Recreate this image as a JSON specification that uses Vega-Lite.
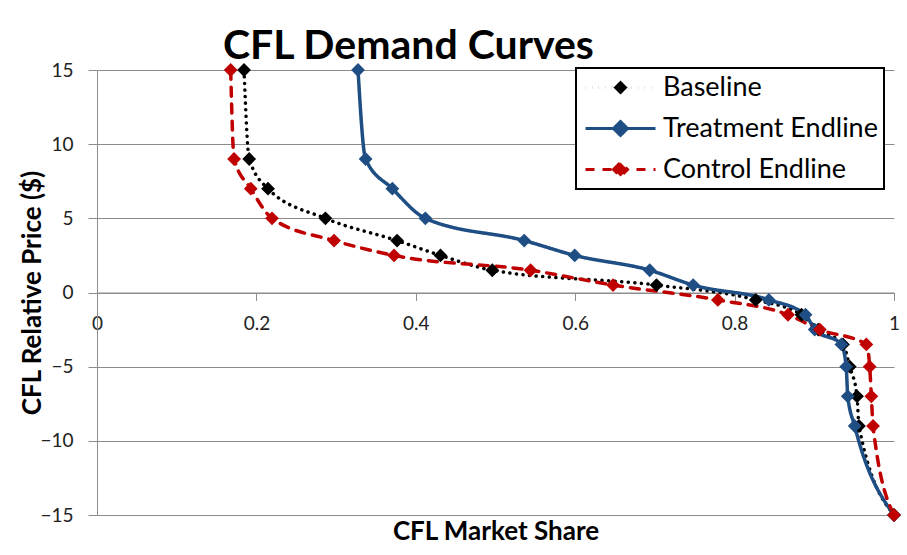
{
  "$schema": "https://vega.github.io/schema/vega-lite/v6.json",
  "autosize": "none",
  "width": 797,
  "height": 445,
  "padding": {"left": 97, "top": 70, "right": 13, "bottom": 40},
  "background": "white",
  "title": {
    "text": "CFL Demand Curves",
    "anchor": "start",
    "dx": 204,
    "offset": -7,
    "font": "Lato",
    "fontSize": 41,
    "fontWeight": "bold",
    "color": "#000000"
  },
  "config": {
    "view": {"stroke": null},
    "font": "Lato"
  },
  "data": {
    "values": [
      {"series": "Baseline", "share": 0.1845, "price": 15},
      {"series": "Baseline", "share": 0.191, "price": 9},
      {"series": "Baseline", "share": 0.2146, "price": 7},
      {"series": "Baseline", "share": 0.2866, "price": 5},
      {"series": "Baseline", "share": 0.3765, "price": 3.5},
      {"series": "Baseline", "share": 0.431, "price": 2.5},
      {"series": "Baseline", "share": 0.496, "price": 1.5},
      {"series": "Baseline", "share": 0.702, "price": 0.5},
      {"series": "Baseline", "share": 0.8265, "price": -0.5},
      {"series": "Baseline", "share": 0.884, "price": -1.5},
      {"series": "Baseline", "share": 0.905, "price": -2.5},
      {"series": "Baseline", "share": 0.936, "price": -3.5},
      {"series": "Baseline", "share": 0.9445, "price": -5},
      {"series": "Baseline", "share": 0.9536, "price": -7},
      {"series": "Baseline", "share": 0.956, "price": -9},
      {"series": "Baseline", "share": 1.0, "price": -15},
      {"series": "Treatment Endline", "share": 0.3275, "price": 15},
      {"series": "Treatment Endline", "share": 0.337, "price": 9},
      {"series": "Treatment Endline", "share": 0.3706, "price": 7},
      {"series": "Treatment Endline", "share": 0.412, "price": 5},
      {"series": "Treatment Endline", "share": 0.536, "price": 3.5},
      {"series": "Treatment Endline", "share": 0.5994, "price": 2.5},
      {"series": "Treatment Endline", "share": 0.6935, "price": 1.5},
      {"series": "Treatment Endline", "share": 0.748, "price": 0.5},
      {"series": "Treatment Endline", "share": 0.843, "price": -0.5},
      {"series": "Treatment Endline", "share": 0.889, "price": -1.5},
      {"series": "Treatment Endline", "share": 0.9005, "price": -2.5},
      {"series": "Treatment Endline", "share": 0.934, "price": -3.5},
      {"series": "Treatment Endline", "share": 0.94, "price": -5},
      {"series": "Treatment Endline", "share": 0.942, "price": -7},
      {"series": "Treatment Endline", "share": 0.9507, "price": -9},
      {"series": "Treatment Endline", "share": 1.0, "price": -15},
      {"series": "Control Endline", "share": 0.1677, "price": 15},
      {"series": "Control Endline", "share": 0.172, "price": 9},
      {"series": "Control Endline", "share": 0.1929, "price": 7},
      {"series": "Control Endline", "share": 0.2196, "price": 5},
      {"series": "Control Endline", "share": 0.2974, "price": 3.5},
      {"series": "Control Endline", "share": 0.3727, "price": 2.5},
      {"series": "Control Endline", "share": 0.544, "price": 1.5},
      {"series": "Control Endline", "share": 0.6475, "price": 0.5},
      {"series": "Control Endline", "share": 0.779, "price": -0.5},
      {"series": "Control Endline", "share": 0.867, "price": -1.5},
      {"series": "Control Endline", "share": 0.907, "price": -2.5},
      {"series": "Control Endline", "share": 0.9653, "price": -3.5},
      {"series": "Control Endline", "share": 0.9695, "price": -5},
      {"series": "Control Endline", "share": 0.9716, "price": -7},
      {"series": "Control Endline", "share": 0.9737, "price": -9},
      {"series": "Control Endline", "share": 1.0, "price": -15}
    ]
  },
  "encoding": {
    "x": {
      "field": "share",
      "type": "quantitative",
      "scale": {"domain": [0, 1], "nice": false},
      "axis": {
        "title": "CFL Market Share",
        "values": [0, 0.2, 0.4, 0.6, 0.8, 1],
        "format": "~g",
        "offset": -222.5,
        "grid": false,
        "domainColor": "#8c8c8c",
        "tickColor": "#8c8c8c",
        "tickSize": 8,
        "labelFont": "Lato",
        "labelFontSize": 19,
        "labelColor": "#222222",
        "labelPadding": 14,
        "labelFlush": false,
        "titleFont": "Lato",
        "titleFontSize": 26,
        "titleFontWeight": "bold",
        "titleColor": "#000000",
        "titleY": 239,
        "titleBaseline": "middle"
      }
    },
    "y": {
      "field": "price",
      "type": "quantitative",
      "scale": {"domain": [-15, 15], "nice": false},
      "axis": {
        "title": "CFL Relative Price ($)",
        "values": [-15, -10, -5, 0, 5, 10, 15],
        "grid": true,
        "gridColor": "#8c8c8c",
        "gridWidth": 1,
        "domainColor": "#8c8c8c",
        "tickColor": "#8c8c8c",
        "tickSize": 9,
        "labelFont": "Lato",
        "labelFontSize": 19,
        "labelColor": "#222222",
        "labelPadding": 15,
        "titleFont": "Lato",
        "titleFontSize": 26,
        "titleFontWeight": "bold",
        "titleColor": "#000000",
        "titleX": -65,
        "titleBaseline": "middle"
      }
    },
    "color": {
      "field": "series",
      "type": "nominal",
      "scale": {
        "domain": ["Baseline", "Treatment Endline", "Control Endline"],
        "range": ["#000000", "#1F4E84", "#C00000"]
      },
      "legend": {
        "title": null,
        "orient": "none",
        "legendX": 479,
        "legendY": -2,
        "direction": "vertical",
        "symbolType": "M-1,0H6M1.8,0L2.5,-0.7L3.2,0L2.5,0.7Z",
        "symbolSize": 400,
        "symbolStrokeWidth": 3,
        "labelFont": "Lato",
        "labelFontSize": 27,
        "labelColor": "#000000",
        "labelOffset": 54,
        "labelLimit": 400,
        "rowPadding": 13,
        "padding": 6,
        "strokeColor": "#000000",
        "fillColor": "#ffffff",
        "encode": {
          "symbols": {"update": {"fill": {"scale": "color", "field": "value"}}},
          "legend": {"update": {"strokeWidth": {"value": 2}}}
        }
      }
    },
    "strokeDash": {
      "field": "series",
      "type": "nominal",
      "scale": {
        "domain": ["Baseline", "Treatment Endline", "Control Endline"],
        "range": [[0.1, 6.5], [1, 0], [9, 8]]
      },
      "legend": null
    }
  },
  "layer": [
    {
      "mark": {"type": "line", "strokeWidth": 3.5, "strokeCap": "round", "interpolate": "monotone"},
      "encoding": {"order": {"field": "price", "sort": "descending"}}
    },
    {
      "mark": {"type": "point", "shape": "diamond", "filled": true, "size": 190, "opacity": 1},
      "encoding": {"strokeDash": {"value": [1, 0]}}
    }
  ]
}
